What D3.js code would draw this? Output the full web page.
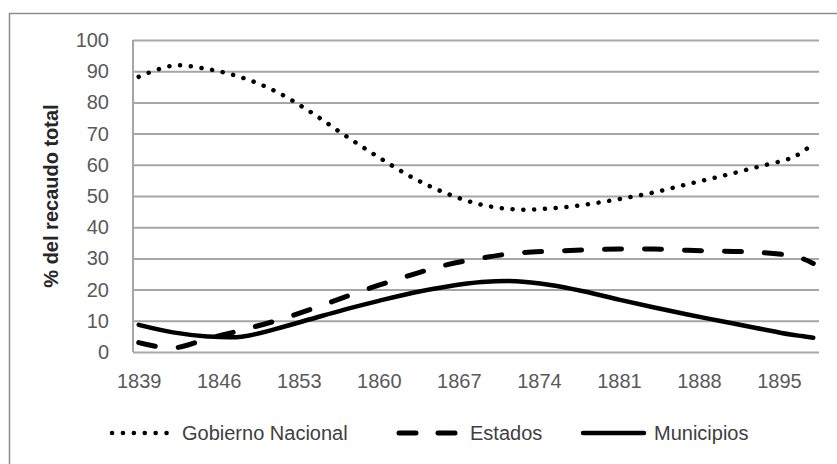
<!DOCTYPE html>
<html>
<head>
<meta charset="utf-8">
<script src="https://cdn.jsdelivr.net/npm/d3@7"></script>
<style>
  body { margin: 0; background: #fff; }
  svg { display: block; font-family: "Liberation Sans", Arial, sans-serif; }
  .tick text { fill: #595959; font-size: 20px; }
  .grid line { stroke: #a6a6a6; stroke-width: 2; }
  .legend text { fill: #404040; font-size: 20px; }
</style>
</head>
<body>
<svg width="837" height="464"></svg>
<script>
// --- data ---
const years = [1839, 1842, 1845, 1848, 1851, 1854, 1857, 1860, 1863, 1866, 1869,
               1872, 1875, 1878, 1881, 1884, 1887, 1890, 1893, 1896, 1897, 1898];
const gobiernoNacional = [88.2, 91.8, 90.7, 88.0, 83.5, 77.0, 69.5, 62.4, 55.8, 50.7, 47.2,
                          45.7, 46.0, 47.2, 49.0, 51.1, 53.8, 56.4, 59.2, 62.1, 64.0, 66.8];
const estados = [3.0, 1.3, 4.2, 7.0, 10.0, 13.6, 17.6, 21.4, 24.9, 28.0, 30.1,
                 31.7, 32.3, 32.7, 33.0, 33.0, 32.6, 32.3, 32.0, 30.9, 30.0, 28.4];
const municipios = [8.7, 6.3, 5.0, 4.9, 7.4, 10.5, 13.6, 16.4, 19.0, 21.0, 22.4,
                    22.7, 21.5, 19.4, 16.8, 14.35, 12.0, 9.85, 7.7, 5.6, 5.1, 4.6];
const xTickYears = [1839, 1846, 1853, 1860, 1867, 1874, 1881, 1888, 1895];
const yTicks = [0, 10, 20, 30, 40, 50, 60, 70, 80, 90, 100];
const seriesNames = ["Gobierno Nacional", "Estados", "Municipios"];

// --- setup ---
const svg = d3.select("svg");
const plot = { left: 133, right: 819, top: 40, bottom: 352 };

// one category per year, 1839..1898, points drawn at the middle of each slot
const x = d3.scaleLinear().domain([1838.5, 1898.5]).range([plot.left, plot.right]);
const y = d3.scaleLinear().domain([0, 100]).range([plot.bottom, plot.top]);

// outer chart border
svg.append("rect")
    .attr("x", 9.5).attr("y", 13.5)
    .attr("width", 840).attr("height", 460)
    .attr("fill", "none").attr("stroke", "#8c8c8c").attr("stroke-width", 1.5);

// gridlines
svg.append("g").attr("class", "grid")
    .attr("transform", `translate(${plot.left},0)`)
    .call(d3.axisLeft(y).tickValues(yTicks).tickSize(-(plot.right - plot.left)).tickFormat(""))
    .call(g => g.select(".domain").remove());

// left axis line
svg.append("line")
    .attr("x1", plot.left).attr("x2", plot.left)
    .attr("y1", plot.top).attr("y2", plot.bottom)
    .attr("stroke", "#a6a6a6").attr("stroke-width", 2);

// y tick labels
svg.append("g")
    .attr("transform", `translate(${plot.left},0)`)
    .call(d3.axisLeft(y).tickValues(yTicks).tickSize(0).tickPadding(24))
    .call(g => g.select(".domain").remove());

// x tick labels
svg.append("g")
    .attr("transform", `translate(0,${plot.bottom})`)
    .call(d3.axisBottom(x).tickValues(xTickYears).tickSize(0).tickPadding(22).tickFormat(d3.format("d")))
    .call(g => g.select(".domain").remove());

// y axis title
svg.append("text")
    .attr("transform", `translate(58,${(plot.top + plot.bottom) / 2}) rotate(-90)`)
    .attr("text-anchor", "middle")
    .attr("font-size", 20).attr("font-weight", "bold").attr("fill", "#262626")
    .text("% del recaudo total");

// --- lines ---
const styles = [
    { values: gobiernoNacional, dash: "0.1 10.7", width: 4.5 },
    { values: estados, dash: "17 23", width: 5 },
    { values: municipios, dash: null, width: 4.5 }
];

const line = d3.line()
    .x(d => x(d.year))
    .y(d => y(d.value))
    .curve(d3.curveCatmullRom.alpha(0.5));

styles.forEach(s => {
    const pts = years.map((yr, i) => ({ year: yr, value: s.values[i] }));
    svg.append("path")
        .datum(pts)
        .attr("d", line)
        .attr("fill", "none")
        .attr("stroke", "#000")
        .attr("stroke-width", s.width)
        .attr("stroke-linecap", "round")
        .attr("stroke-dasharray", s.dash);
});

// --- legend ---
const legendItems = [
    { x: 110, textX: 182 },
    { x: 396, textX: 470 },
    { x: 580, textX: 654 }
];
const legend = svg.append("g").attr("class", "legend");
legendItems.forEach((item, i) => {
    const s = styles[i];
    const len = i === 2 ? 67 : 62;
    legend.append("line")
        .attr("x1", item.x + (i === 0 ? 2 : 3)).attr("x2", item.x + len - 3)
        .attr("y1", 433).attr("y2", 433)
        .attr("stroke", "#000")
        .attr("stroke-width", s.width)
        .attr("stroke-linecap", "round")
        .attr("stroke-dasharray", i === 0 ? "0.1 10.8" : (i === 1 ? "17 22" : null));
    legend.append("text")
        .attr("x", item.textX).attr("y", 433)
        .attr("dy", "0.35em")
        .text(seriesNames[i]);
});
</script>
</body>
</html>
